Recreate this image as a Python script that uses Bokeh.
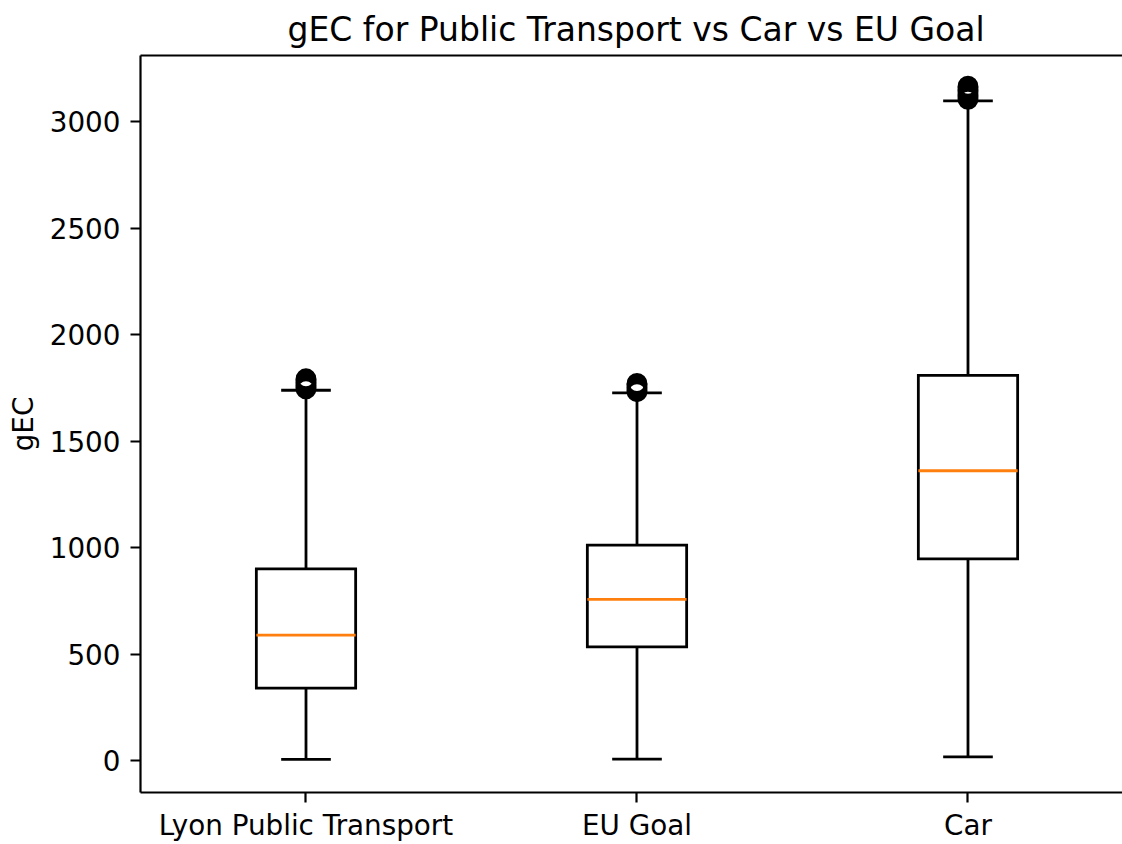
from bokeh.plotting import figure
from bokeh.models import ColumnDataSource, FixedTicker, LinearAxis, Range1d
from bokeh.embed import file_html
from bokeh.resources import INLINE

# Box statistics per transport mode (gEC)
categories = ["Lyon Public Transport", "EU Goal", "Car"]
q1 = [341, 535, 948]
medians = [590, 758, 1362]
q3 = [901, 1013, 1810]
whisker_low = [7, 8, 18]
whisker_high = [1740, 1728, 3099]

# Points beyond the upper whisker
outliers_lyon = [1746, 1753, 1760, 1767, 1774, 1781, 1788, 1794]
outliers_eu = [1733, 1740, 1747, 1754, 1761, 1768, 1772]
outliers_car = [3106, 3114, 3122, 3130, 3138, 3146, 3154, 3162, 3168]

y_ticks = [0, 500, 1000, 1500, 2000, 2500, 3000]

FONT = "DejaVu Sans"
BOX_WIDTH = 0.3
CAP_WIDTH = 0.15
LW = 2.8
AXIS_LW = 2.2

positions = [i + 1 for i in range(len(categories))]

p = figure(
    width=1122,
    height=844,
    x_range=Range1d(0.5, 3.4668),
    y_range=Range1d(-149, 3312),
    output_backend="svg",
    toolbar_location=None,
    min_border_left=140,
    min_border_right=0,
    min_border_bottom=52,
    min_border_top=54,
)
p.xgrid.visible = False
p.ygrid.visible = False
p.outline_line_color = None
p.background_fill_color = "white"
p.border_fill_color = "white"

bottom_axis = p.below[0]
left_axis = p.left[0]

# Title
p.title.text = "gEC for Public Transport vs Car vs EU Goal"
p.title.text_font = FONT
p.title.text_font_size = "33px"
p.title.text_font_style = "normal"
p.title.text_color = "black"
p.title.align = "left"
p.title.offset = 147
p.title.standoff = 14

# Axes styling
for ax in (bottom_axis, left_axis):
    ax.axis_line_width = AXIS_LW
    ax.axis_line_color = "black"
    ax.major_tick_line_width = AXIS_LW
    ax.major_tick_line_color = "black"
    ax.major_tick_out = 10
    ax.major_tick_in = 0
    ax.minor_tick_out = 0
    ax.minor_tick_in = 0
    ax.major_label_text_font = FONT
    ax.major_label_text_font_size = "27.8px"
    ax.major_label_text_color = "black"
    ax.major_label_standoff = 10

bottom_axis.major_label_standoff = 6
bottom_axis.ticker = FixedTicker(ticks=positions)
bottom_axis.major_label_overrides = {pos: name for pos, name in zip(positions, categories)}

left_axis.ticker = FixedTicker(ticks=y_ticks)
left_axis.axis_label = "gEC"
left_axis.axis_label_text_font = FONT
left_axis.axis_label_text_font_size = "27.8px"
left_axis.axis_label_text_font_style = "normal"
left_axis.axis_label_text_color = "black"
left_axis.axis_label_standoff = 7

# Top spine
top_axis = LinearAxis(ticker=FixedTicker(ticks=[]))
top_axis.axis_line_width = AXIS_LW
top_axis.axis_line_color = "black"
top_axis.major_tick_out = 0
top_axis.major_tick_in = 0
top_axis.minor_tick_out = 0
top_axis.minor_tick_in = 0
top_axis.major_label_text_font_size = "0px"
top_axis.major_label_standoff = 0
p.add_layout(top_axis, "above")

box_src = ColumnDataSource(dict(
    left=[x - BOX_WIDTH / 2 for x in positions],
    right=[x + BOX_WIDTH / 2 for x in positions],
    x=positions,
    q1=q1, q3=q3, med=medians,
    lo=whisker_low, hi=whisker_high,
    cap_l=[x - CAP_WIDTH / 2 for x in positions],
    cap_r=[x + CAP_WIDTH / 2 for x in positions],
))

# Boxes
p.quad(left="left", right="right", bottom="q1", top="q3", source=box_src,
       fill_color=None, line_color="black", line_width=LW, line_join="miter")
# Medians
p.segment(x0="left", x1="right", y0="med", y1="med", source=box_src,
          line_color="#ff7f0e", line_width=LW)
# Whiskers
p.segment(x0="x", x1="x", y0="q1", y1="lo", source=box_src,
          line_color="black", line_width=LW)
p.segment(x0="x", x1="x", y0="q3", y1="hi", source=box_src,
          line_color="black", line_width=LW)
# Caps
p.segment(x0="cap_l", x1="cap_r", y0="lo", y1="lo", source=box_src,
          line_color="black", line_width=LW)
p.segment(x0="cap_l", x1="cap_r", y0="hi", y1="hi", source=box_src,
          line_color="black", line_width=LW)

# Fliers
fx, fy = [], []
for pos, vals in zip(positions, [outliers_lyon, outliers_eu, outliers_car]):
    fx += [pos] * len(vals)
    fy += vals
p.scatter(fx, fy, marker="circle", size=18, fill_color=None,
          line_color="black", line_width=LW)

open("out.html", "w").write(file_html(p, INLINE))
